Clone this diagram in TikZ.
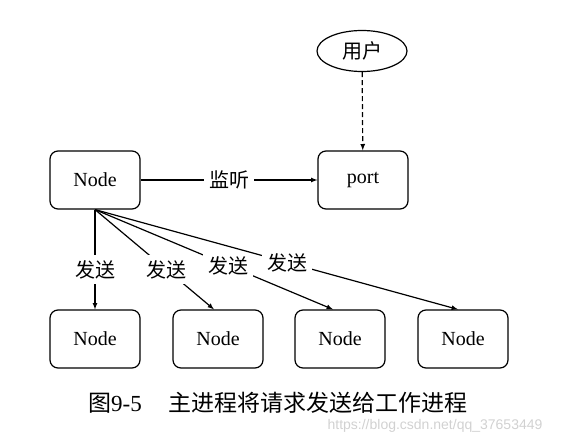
\documentclass[tikz,border=0pt]{standalone}
\usepackage{fontspec}
\setmainfont{Liberation Serif}
\newfontfamily\cjk{Noto Sans CJK SC}
\newfontfamily\wmfont{Liberation Sans}
\usepackage{tikz}
\usetikzlibrary{arrows, shapes.geometric}

\tikzset{
  box/.style={draw, rounded corners=8pt, minimum width=90pt, minimum height=58pt, font=\fontsize{20}{24}\selectfont},
  lbl/.style={fill=white, inner sep=5pt, font=\cjk\fontsize{20}{24}\selectfont}
}

\begin{document}
\begin{tikzpicture}[x=1pt, y=-1pt, >=latex, line width=1.2pt]
\useasboundingbox (0,0) rectangle (570,444);
\node[box](n) at (95,180) {Node};
\node[box](port) at (363,180) {port};
\node[draw, ellipse, minimum width=90pt, minimum height=41pt, font=\cjk\fontsize{20}{24}\selectfont](user) at (362,51) {用户};
\node[box](w1) at (95,339) {Node};
\node[box](w2) at (218,339) {Node};
\node[box](w3) at (340,339) {Node};
\node[box](w4) at (463,339) {Node};
%
\draw[->](n) -- node[lbl]{监听} (port);
\draw[->, dash pattern=on 5pt off 3pt](user) -- (port);
\draw[->](n.south) -- node[lbl, pos=0.6]{发送} (w1);
\draw[->](n.south) -- node[lbl, pos=0.6]{发送} ([xshift=-4pt]w2.north);
\draw[->](n.south) -- node[lbl, pos=0.56]{发送} ([xshift=-7pt]w3.north);
\draw[->](n.south) -- node[lbl, pos=0.53]{发送} ([xshift=-5pt]w4.north);
%
\node[inner sep=0pt](cap) at (278,403) {\fontsize{23}{27}\selectfont{\cjk 图}9-5\hspace{27pt}{\cjk 主进程将请求发送给工作进程}};
\node[inner sep=0pt, text=black!18, font=\wmfont\fontsize{14}{16}\selectfont](wm) at (435,426) {https://blog.csdn.net/qq\_37653449};
\end{tikzpicture}
\end{document}
